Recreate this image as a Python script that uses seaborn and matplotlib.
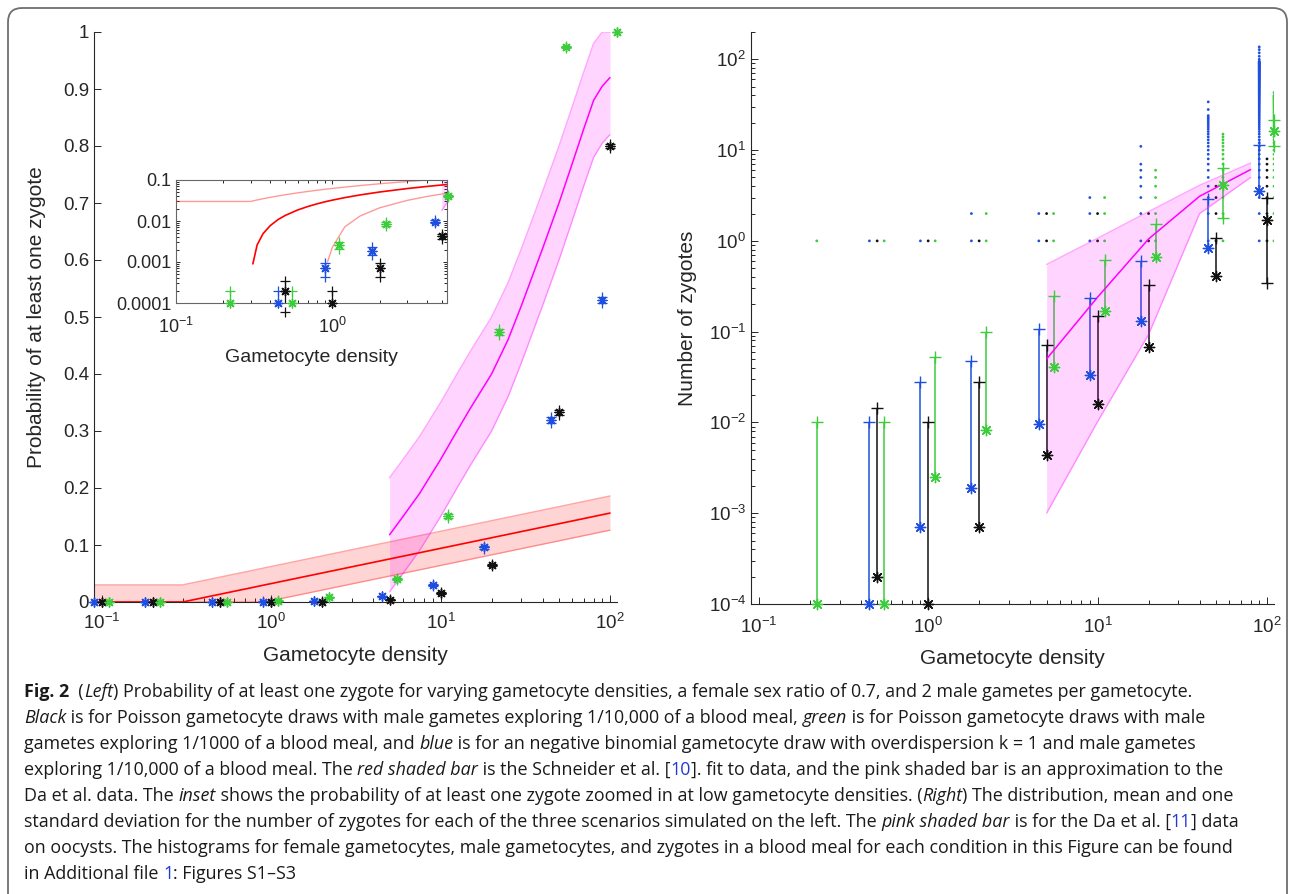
import numpy as np
import pandas as pd
import matplotlib
matplotlib.use("Agg")
import matplotlib.pyplot as plt
from matplotlib.patches import FancyBboxPatch
from matplotlib.ticker import FixedLocator, FixedFormatter, LogLocator, NullFormatter
import seaborn as sns

# ---------------- data ----------------
# gametocyte densities, one offset set per scenario (blue / black / green)
dens_blue = [0.09, 0.18, 0.45, 0.9, 1.8, 4.5, 9, 18, 45, 90]
dens_black = [0.1, 0.2, 0.5, 1, 2, 5, 10, 20, 50, 100]
dens_green = [0.11, 0.22, 0.55, 1.1, 2.2, 5.5, 11, 22, 55, 110]

# left: probability of at least one zygote (+/- error)
prob_black = [0, 0, 0.0002, 0.0001, 0.0007, 0.0043, 0.016, 0.065, 0.333, 0.80]
prob_blue = [0, 0, 0.0001, 0.0007, 0.0019, 0.0097, 0.030, 0.096, 0.319, 0.53]
prob_green = [0, 0.0001, 0.0001, 0.0026, 0.0086, 0.040, 0.151, 0.474, 0.973, 1.0]
err_black = [0, 0, 0.00014, 0.0001, 0.00026, 0.00065, 0.00125, 0.0025, 0.0047, 0.004]
err_blue = [0, 0, 0.0001, 0.00026, 0.00044, 0.001, 0.0017, 0.0029, 0.0047, 0.005]
err_green = [0, 0.0001, 0.0001, 0.0005, 0.00092, 0.002, 0.0036, 0.005, 0.0016, 0.0]

# Schneider et al. fit (red band)
red_x = [0.09, 0.3, 0.31, 0.33, 0.36, 0.4, 0.45, 0.5, 0.6, 0.7, 0.8, 0.9, 0.93, 1, 1.2,
         1.5, 2, 3, 4, 5, 7, 10, 20, 50, 100]
red_mid = [0, 0, 0.0009, 0.0026, 0.0049, 0.0077, 0.0109, 0.0137, 0.0186, 0.0227, 0.0263,
           0.0295, 0.0304, 0.0323, 0.0372, 0.0432, 0.0509, 0.0618, 0.0695, 0.0755, 0.0845,
           0.0941, 0.1127, 0.1373, 0.156]
red_hi = [0.03, 0.03, 0.0309, 0.0326, 0.0349, 0.0377, 0.0409, 0.0437, 0.0486, 0.0527, 0.0563,
          0.0595, 0.0604, 0.0623, 0.0672, 0.0732, 0.0809, 0.0918, 0.0995, 0.1055, 0.1145,
          0.1241, 0.1427, 0.1673, 0.186]
red_lo = [0, 0, 0, 0, 0, 0, 0, 0, 0, 0, 0, 0, 0.001, 0.0023, 0.0072, 0.0132, 0.0209, 0.0318,
          0.0395, 0.0455, 0.0545, 0.0641, 0.0827, 0.1073, 0.126]

# Da et al. approximation (pink band, left)
mag_x = [5, 6, 7.5, 10, 12.5, 15, 20, 25, 30, 40, 50, 60, 70, 80, 90, 100]
mag_mid = [0.118, 0.15, 0.19, 0.25, 0.30, 0.34, 0.40, 0.46, 0.52, 0.62, 0.70, 0.77, 0.83,
           0.88, 0.905, 0.92]
mag_hi = [0.218, 0.25, 0.29, 0.35, 0.40, 0.44, 0.50, 0.56, 0.62, 0.72, 0.80, 0.87, 0.93,
          0.98, 1.0, 1.0]
mag_lo = [0.018, 0.05, 0.09, 0.15, 0.20, 0.24, 0.30, 0.36, 0.42, 0.52, 0.60, 0.67, 0.73,
          0.78, 0.805, 0.82]

# right: number of zygotes, mean and mean +/- sd (nan = not drawn)
nan = np.nan
zyg_black = [0, 0, 0.0002, 0.0001, 0.0007, 0.0044, 0.016, 0.067, 0.41, 1.7]
zyg_black_hi = [nan, nan, 0.0144, 0.0102, 0.0276, 0.071, 0.15, 0.33, 1.08, 3.0]
zyg_black_lo = [nan, nan, nan, nan, nan, nan, nan, nan, nan, 0.345]
zyg_blue = [0, 0, 0.0001, 0.0007, 0.0019, 0.0096, 0.033, 0.13, 0.84, 3.5]
zyg_blue_hi = [nan, nan, 0.0102, 0.0276, 0.048, 0.108, 0.234, 0.60, 2.9, 11.4]
zyg_blue_lo = [nan] * 10
zyg_green = [0, 0.0001, 0.0001, 0.0025, 0.0083, 0.041, 0.167, 0.66, 4.1, 16.2]
zyg_green_hi = [nan, 0.0102, 0.0102, 0.052, 0.098, 0.25, 0.61, 1.54, 6.4, 21.5]
zyg_green_lo = [nan, nan, nan, nan, nan, nan, nan, nan, 1.8, 11.2]

# simulated zygote counts seen (every integer up to top, plus isolated values)
count_top_blue = [0, 0, 1, 1, 2, 2, 3, 7, 24, 95]
count_extra_blue = [[], [], [], [], [], [], [], [11], [28, 34], [100, 108, 118, 128, 137]]
count_top_black = [0, 0, 1, 1, 1, 2, 2, 2, 4, 8]
count_extra_black = [[]] * 10
count_top_green = [0, 1, 1, 1, 2, 2, 3, 6, 15, 40]
count_extra_green = [[], [], [], [], [], [], [], [], [], [43]]

# Da et al. oocyst band (right)
da_x = [5, 10, 20, 40, 80]
da_mid = [0.05, 0.24, 1.05, 3.1, 6.1]
da_hi = [0.55, 1.07, 2.1, 4.1, 7.2]
da_lo = [0.001, 0.0102, 0.093, 2.0, 5.0]

# ticks
prob_ticks = [0, 0.1, 0.2, 0.3, 0.4, 0.5, 0.6, 0.7, 0.8, 0.9, 1]
prob_labels = ['0', '0.1', '0.2', '0.3', '0.4', '0.5', '0.6', '0.7', '0.8', '0.9', '1']
inset_ticks = [0.0001, 0.001, 0.01, 0.1]
inset_labels = ['0.0001', '0.001', '0.01', '0.1']

caption = [
    [("Fig. 2", "b"), ("  (", "r"), ("Left", "i"),
     (") Probability of at least one zygote for varying gametocyte densities, a female sex ratio of 0.7, and 2 male gametes per gametocyte.", "r")],
    [("Black", "i"), (" is for Poisson gametocyte draws with male gametes exploring 1/10,000 of a blood meal, ", "r"),
     ("green", "i"), (" is for Poisson gametocyte draws with male", "r")],
    [("gametes exploring 1/1000 of a blood meal, and ", "r"), ("blue", "i"),
     (" is for an negative binomial gametocyte draw with overdispersion k = 1 and male gametes", "r")],
    [("exploring 1/10,000 of a blood meal. The ", "r"), ("red shaded bar", "i"),
     (" is the Schneider et al. [", "r"), ("10", "l"),
     ("]. fit to data, and the pink shaded bar is an approximation to the", "r")],
    [("Da et al. data. The ", "r"), ("inset", "i"),
     (" shows the probability of at least one zygote zoomed in at low gametocyte densities. (", "r"),
     ("Right", "i"), (") The distribution, mean and one", "r")],
    [("standard deviation for the number of zygotes for each of the three scenarios simulated on the left. The ", "r"),
     ("pink shaded bar", "i"), (" is for the Da et al. [", "r"), ("11", "l"), ("] data", "r")],
    [("on oocysts. The histograms for female gametocytes, male gametocytes, and zygotes in a blood meal for each condition in this Figure can be found", "r")],
    [("in Additional file ", "r"), ("1", "l"), (": Figures S1\u2013S3", "r")],
]

# ---------------- style ----------------
BLUE = '#1f4fe0'
BLACK = '#111111'
GREEN = '#3ccc3c'
RED = '#ff0000'
MAG = '#ff00ff'
AX = '#262626'
AST = (8, 2, 0)

sns.set_style("ticks")
plt.rcParams['font.family'] = ['Liberation Sans', 'DejaVu Sans']
plt.rcParams['axes.edgecolor'] = AX
plt.rcParams['axes.linewidth'] = 0.8

W, H = 1293, 894
fig = plt.figure(figsize=(W / 100, H / 100), dpi=100)


def px_axes(left, top, right, bottom):
    return fig.add_axes([left / W, 1 - bottom / H, (right - left) / W, (bottom - top) / H])


def line(ax, x, y, color, lw=1.0, alpha=1.0, z=2):
    sns.lineplot(x=x, y=y, ax=ax, color=color, lw=lw, alpha=alpha, sort=False,
                 estimator=None, errorbar=None, zorder=z)


def style(ax, tsize):
    ax.tick_params(which='both', direction='in', colors=AX, labelsize=tsize, width=0.7)
    ax.tick_params(which='major', length=5)
    ax.tick_params(which='minor', length=3)


# background / frame
bg = fig.add_axes([0, 0, 1, 1], zorder=-5)
bg.set_xlim(0, W)
bg.set_ylim(H, 0)
bg.axis('off')
bg.add_patch(FancyBboxPatch((8, 8), 1279, 920, boxstyle='round,pad=0,rounding_size=14',
                            fc='white', ec='#6e6e6e', lw=1.3))

# ---------------- left panel ----------------
ax1 = px_axes(94, 32, 617, 602)
ax1.set_xscale('log')
ax1.fill_between(red_x, red_lo, red_hi, color=RED, alpha=0.17, lw=0, zorder=1)
line(ax1, red_x, red_hi, RED, alpha=0.35)
line(ax1, red_x, red_lo, RED, alpha=0.35)
line(ax1, red_x, red_mid, RED, lw=1.2)
ax1.fill_between(mag_x, mag_lo, mag_hi, color=MAG, alpha=0.17, lw=0, zorder=1)
line(ax1, mag_x, mag_hi, MAG, alpha=0.35)
line(ax1, mag_x, mag_lo, MAG, alpha=0.35)
line(ax1, mag_x, mag_mid, MAG, lw=1.1)

series = [(dens_blue, prob_blue, err_blue, BLUE),
          (dens_black, prob_black, err_black, BLACK),
          (dens_green, prob_green, err_green, GREEN)]


def prob_points(ax, inset):
    for xs, ps, es, c in series:
        xs, ps, es = np.array(xs), np.array(ps), np.array(es)
        up, dn = ps + es, ps - es
        if inset:
            # only what falls inside the zoomed window, log axis needs positives
            keep = (ps > 0) & (xs <= 5.5) & (ps <= 0.1)
            kdn = keep & (dn > 0)
            low = np.where(dn > 0, dn, ps)
        else:
            keep = np.ones(len(ps), bool)
            kdn = keep
            low = dn
        ax.vlines(xs[keep], low[keep], up[keep], color=c, lw=0.9, zorder=4)
        sns.scatterplot(x=xs[keep], y=up[keep], marker='+', s=45, color=c, edgecolor=c,
                        linewidth=0.9, ax=ax, zorder=5, clip_on=False)
        sns.scatterplot(x=xs[kdn], y=dn[kdn], marker='+', s=45, color=c, edgecolor=c,
                        linewidth=0.9, ax=ax, zorder=5, clip_on=False)
        sns.scatterplot(x=xs[keep], y=ps[keep], marker=AST, s=40, color=c, edgecolor=c,
                        linewidth=1.0, ax=ax, zorder=6, clip_on=False)


prob_points(ax1, False)
ax1.set_xlim(0.09, 110)
ax1.set_ylim(0, 1)
ax1.yaxis.set_major_locator(FixedLocator(prob_ticks))
ax1.yaxis.set_major_formatter(FixedFormatter(prob_labels))
sns.despine(ax=ax1)
style(ax1, 13.5)
ax1.tick_params(axis='x', pad=8)
ax1.set_xlabel('Gametocyte density', fontsize=15, color=AX, labelpad=9)
ax1.set_ylabel('Probability of at least one zygote', fontsize=15, color=AX, labelpad=12)

# ---------------- inset ----------------
ax3 = px_axes(176, 180, 447, 303)
ax3.set_xscale('log')
ax3.set_yscale('log')
rx = np.array(red_x)
for arr, lw, a in [(red_hi, 1.0, 0.4), (red_mid, 1.2, 1.0), (red_lo, 1.0, 0.4)]:
    arr = np.array(arr)
    k = arr > 0
    line(ax3, rx[k], arr[k], RED, lw=lw, alpha=a)
ax3.fill_between(mag_x, mag_lo, mag_hi, color=MAG, alpha=0.17, lw=0, zorder=1)
line(ax3, mag_x, mag_lo, MAG, alpha=0.35)
prob_points(ax3, True)
ax3.set_xlim(0.1, 5.4)
ax3.set_ylim(1e-4, 0.1)
ax3.yaxis.set_major_locator(FixedLocator(inset_ticks))
ax3.yaxis.set_major_formatter(FixedFormatter(inset_labels))
ax3.yaxis.set_minor_locator(LogLocator(subs=np.arange(2, 10)))
ax3.yaxis.set_minor_formatter(NullFormatter())
for s in ax3.spines.values():
    s.set_color('#666666')
style(ax3, 13)
ax3.tick_params(which='both', top=True, right=True)
ax3.tick_params(which='major', length=3)
ax3.tick_params(which='minor', length=2)
ax3.tick_params(axis='x', pad=10)
ax3.set_xlabel('Gametocyte density', fontsize=14, color=AX, labelpad=9)

# ---------------- right panel ----------------
ax2 = px_axes(751, 32, 1274, 604)
ax2.set_xscale('log')
ax2.set_yscale('log')

rows = []
for name, xs, tops, extras in [('blue', dens_blue, count_top_blue, count_extra_blue),
                               ('black', dens_black, count_top_black, count_extra_black),
                               ('green', dens_green, count_top_green, count_extra_green)]:
    for x, t, ex in zip(xs, tops, extras):
        for n in list(range(1, t + 1)) + list(ex):
            rows.append((name, x, n))
dots = pd.DataFrame(rows, columns=['scenario', 'density', 'zygotes'])
sns.scatterplot(data=dots, x='density', y='zygotes', hue='scenario',
                palette={'blue': BLUE, 'black': BLACK, 'green': GREEN},
                s=4, linewidth=0, legend=False, ax=ax2, zorder=2)

ax2.fill_between(da_x, da_lo, da_hi, color=MAG, alpha=0.17, lw=0, zorder=3)
line(ax2, da_x, da_hi, MAG, alpha=0.35, z=3)
line(ax2, da_x, da_lo, MAG, alpha=0.35, z=3)
line(ax2, da_x, da_mid, MAG, lw=1.1, z=3)

for xs, ms, his, los, c in [(dens_blue, zyg_blue, zyg_blue_hi, zyg_blue_lo, BLUE),
                            (dens_black, zyg_black, zyg_black_hi, zyg_black_lo, BLACK),
                            (dens_green, zyg_green, zyg_green_hi, zyg_green_lo, GREEN)]:
    xs, ms, his, los = map(np.array, (xs, ms, his, los))
    k = ms > 0
    bottom = np.where(np.isnan(los), ms, los)
    ax2.vlines(xs[k], bottom[k], his[k], color=c, lw=1.1, zorder=2)
    sns.scatterplot(x=xs[k], y=his[k], marker='+', s=80, color=c, edgecolor=c,
                    linewidth=1.0, ax=ax2, zorder=5, clip_on=False)
    kl = ~np.isnan(los)
    sns.scatterplot(x=xs[kl], y=los[kl], marker='+', s=80, color=c, edgecolor=c,
                    linewidth=1.0, ax=ax2, zorder=5, clip_on=False)
    sns.scatterplot(x=xs[k], y=ms[k], marker=AST, s=55, color=c, edgecolor=c,
                    linewidth=1.0, ax=ax2, zorder=6, clip_on=False)

ax2.set_xlim(0.09, 110)
ax2.set_ylim(1e-4, 200)
ax2.yaxis.set_minor_locator(LogLocator(subs=np.arange(2, 10), numticks=20))
ax2.yaxis.set_minor_formatter(NullFormatter())
sns.despine(ax=ax2)
style(ax2, 13.5)
ax2.tick_params(axis='x', pad=9)
ax2.set_xlabel('Gametocyte density', fontsize=15, color=AX, labelpad=9)
ax2.set_ylabel('Number of zygotes', fontsize=15, color=AX, labelpad=8)

# ---------------- caption ----------------
renderer = fig.canvas.get_renderer()
CAP_FONT = ['Open Sans', 'DejaVu Sans']


def run_kw(st, size):
    kw = dict(fontsize=size, family=CAP_FONT, color='#1a1a1a', va='baseline', ha='left')
    if st == 'b':
        kw['fontweight'] = 'bold'
    if st == 'i':
        kw['fontstyle'] = 'italic'
    if st == 'l':
        kw['color'] = '#2338d8'
    return kw


def run_width(txt, st, size):
    kw = run_kw(st, size)
    t = bg.text(0, 0, '|' + txt + '|', **kw)
    w = t.get_window_extent(renderer).width
    t.remove()
    t = bg.text(0, 0, '||', **kw)
    w -= t.get_window_extent(renderer).width
    t.remove()
    return w


cap_left = 24
base = 10.0
w1 = sum(run_width(t, s, base) for t, s in caption[0])
cap_size = base * (1198 - cap_left) / w1

for i, runs in enumerate(caption):
    x = cap_left
    y = 697 + 26 * i
    for txt, st in runs:
        bg.text(x, y, txt, **run_kw(st, cap_size))
        x += run_width(txt, st, cap_size)

fig.savefig('out.png', dpi=100)
